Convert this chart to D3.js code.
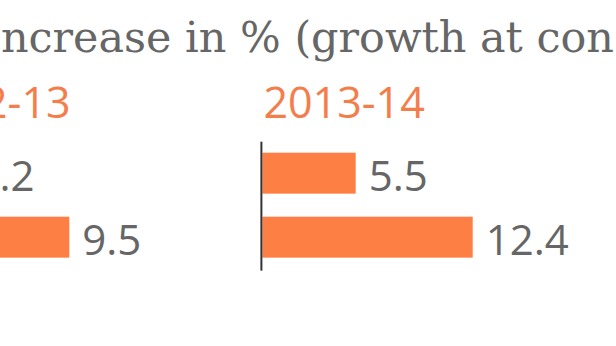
<!DOCTYPE html>
<html>
<head>
<meta charset="utf-8">
<script src="https://cdn.jsdelivr.net/npm/d3@7"></script>
<style>
  html, body { margin: 0; padding: 0; background: #ffffff; overflow: hidden; }
  svg { display: block; }
</style>
</head>
<body>
<svg id="chart" width="616" height="346"></svg>
<script>
// ---- data ----
const title = "Increase in % (growth at constant prices)";
const periods = ["2012-13", "2013-14"];
const categories = ["Category A", "Category B"];
const values2012 = [3.2, 9.5];
const values2013 = [5.5, 12.4];
const seriesValues = [values2012, values2013];

// ---- styles ----
const orange = "#fd7f43";
const headerOrange = "#f47e4b";
const grey = "#666666";

const svg = d3.select("#chart");

// title (serif), sized to the reference x-height and squeezed horizontally so
// "ncrease in % (growth at con" spans the view
const t = svg.append("text")
  .attr("x", 0)
  .attr("y", 0)
  .attr("font-family", "'DejaVu Serif', 'Liberation Serif', serif")
  .attr("font-size", 43)
  .attr("fill", grey)
  .text(title);
const w = t.node().getSubStringLength(1, 27);
const sx = 613 / w;
const wI = t.node().getSubStringLength(0, 1);
t.attr("transform", `translate(${1 - wI * sx},52) scale(${sx},1)`);

// panels
const panelX = d3.scalePoint().domain(periods).range([-91.8, 262.4]);
const x = d3.scaleLinear().domain([0, 15]).range([0, 254.4]);
const y = d3.scaleBand().domain(categories).range([152.7, 257.66]).paddingInner(0.36).paddingOuter(0);

periods.forEach((p, i) => {
  const g = svg.append("g").attr("transform", `translate(${panelX(p)},0)`);
  const data = categories.map((c, j) => ({ c, v: seriesValues[i][j] }));

  g.append("text")
    .attr("x", 1)
    .attr("y", 118)
    .attr("font-family", "'Open Sans', sans-serif")
    .attr("font-size", 43)
    .attr("fill", headerOrange)
    .text(p);

  g.selectAll("rect.bar").data(data).join("rect")
    .attr("class", "bar")
    .attr("x", x(0))
    .attr("y", d => y(d.c))
    .attr("width", d => x(d.v) - x(0))
    .attr("height", y.bandwidth())
    .attr("fill", orange);

  g.selectAll("text.val").data(data).join("text")
    .attr("class", "val")
    .attr("x", d => x(d.v) + 13)
    .attr("y", d => y(d.c) + y.bandwidth() / 2 + 17.5)
    .attr("font-family", "'Open Sans', sans-serif")
    .attr("font-size", 42)
    .attr("fill", grey)
    .text(d => d3.format(".1f")(d.v));

  const r = y.range();
  g.append("line")
    .attr("x1", -1).attr("x2", -1)
    .attr("y1", r[0] - 11).attr("y2", r[1] + 13)
    .attr("stroke", "#333333")
    .attr("stroke-width", 2);
});
</script>
</body>
</html>
